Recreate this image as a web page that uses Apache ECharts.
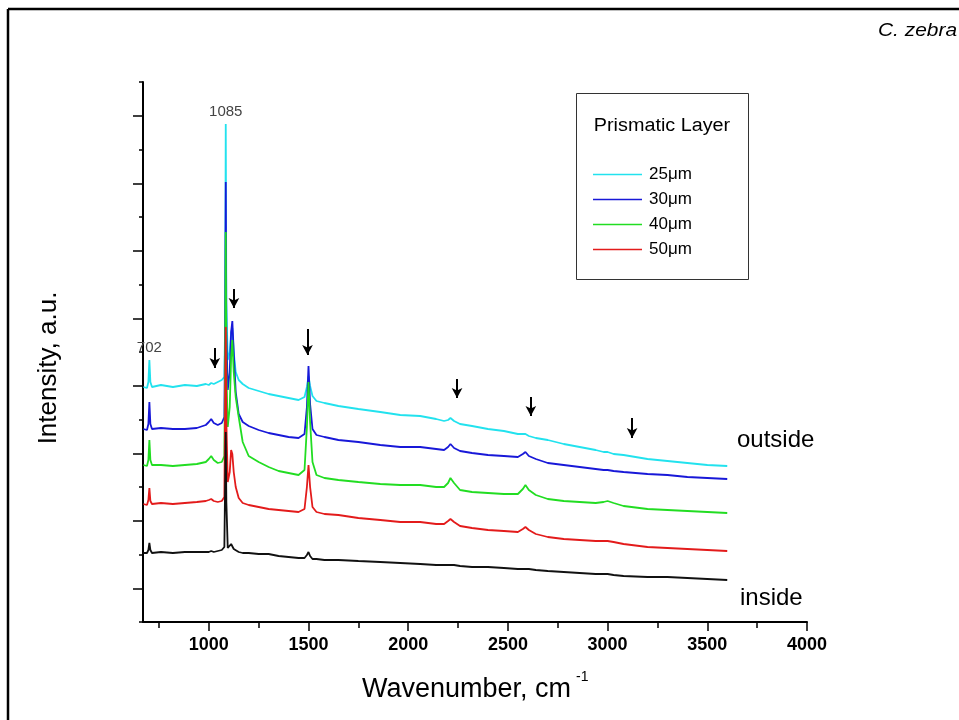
<!DOCTYPE html>
<html>
<head>
<meta charset="utf-8">
<title>C. zebra - Prismatic Layer</title>
<script src="https://cdn.jsdelivr.net/npm/echarts@6/dist/echarts.min.js"></script>
<style>
  html, body { margin: 0; padding: 0; background: #fff; }
  #chart { width: 959px; height: 720px; }
</style>
</head>
<body>
<div id="chart"></div>
<script>
// wavenumber grid (cm-1), shared by all spectra
const wavenumbers = [
  672, 690, 697, 702, 707, 715,
  760, 820, 880, 940, 985, 1000, 1012, 1025, 1045, 1065,
  1078, 1082, 1085, 1088, 1095, 1105, 1112, 1118, 1125, 1135,
  1150, 1170, 1200, 1250, 1300, 1350, 1400, 1450, 1480, 1492,
  1500, 1508, 1520, 1540, 1580, 1650, 1750, 1860, 1960, 2060,
  2140, 2180, 2200, 2212, 2230, 2260, 2320, 2400, 2480, 2550,
  2575, 2588, 2605, 2640, 2700, 2780, 2860, 2940, 2980, 3000,
  3030, 3080, 3200, 3300, 3400, 3500, 3600
];

// intensities (a.u., already offset as stacked in the figure)
const cyan25 = [
  235, 234, 240, 262, 240, 235,
  237, 235, 237, 236, 238, 237, 239, 238, 240, 242,
  245, 300, 498, 320, 262, 270, 290, 294, 270, 250,
  242, 238, 234, 231, 228, 226, 224, 222, 225, 235,
  246, 236, 226, 221, 219, 216, 213, 210, 207, 206,
  203, 201, 202, 204, 201, 198, 196, 193, 191, 188,
  188, 188, 186, 184, 182, 178, 175, 172, 170, 170,
  168, 167, 163, 161, 159, 157, 156
];
const blue30 = [
  193, 192, 198, 220, 198, 193,
  194, 193, 193, 194, 197, 200, 203, 199, 197, 199,
  205, 300, 440, 290, 232, 250, 290, 301, 270, 230,
  208, 200, 196, 192, 189, 187, 185, 184, 188, 215,
  256, 218, 193, 187, 185, 182, 180, 177, 175, 175,
  173, 172, 175, 178, 174, 171, 169, 167, 166, 165,
  168, 170, 166, 163, 159, 157, 155, 153, 152, 152,
  151, 150, 148, 147, 145, 144, 143
];
const green40 = [
  157, 156, 162, 182, 162, 157,
  157, 156, 157, 158, 160, 163, 166, 162, 159, 160,
  166, 260, 390, 250, 195, 215, 265, 282, 250, 225,
  205, 180, 166, 160, 155, 151, 149, 147, 152, 195,
  240, 200, 160, 147, 144, 142, 140, 138, 137, 137,
  135, 135, 139, 144, 139, 132, 130, 129, 128, 128,
  133, 137, 132, 127, 123, 121, 120, 119, 120, 121,
  119, 116, 113, 112, 111, 110, 109
];
const red50 = [
  118, 117, 122, 134, 121, 118,
  119, 118, 119, 120, 121, 122, 123, 121, 120, 121,
  125, 220, 295, 200, 140, 150, 172, 168, 150, 135,
  124, 119, 117, 115, 113, 112, 111, 110, 113, 135,
  157, 135, 115, 110, 108, 107, 104, 102, 100, 100,
  98, 98, 101, 103, 100, 96, 94, 92, 91, 90,
  93, 95, 92, 88, 85, 83, 82, 81, 81, 81,
  80, 78, 75, 74, 73, 72, 71
];
const blackInside = [
  69, 69, 72, 79, 72, 69,
  70, 69, 70, 70, 70, 70, 71, 70, 71, 72,
  75, 140, 190, 120, 74, 75, 78, 76, 73, 71,
  70, 69, 69, 68, 68, 66, 65, 64, 64, 67,
  70, 66, 63, 63, 62, 62, 61, 60, 59, 58,
  57, 57, 57, 57, 57, 56, 55, 55, 54, 53,
  53, 53, 53, 52, 51, 50, 49, 48, 48, 48,
  47, 46, 45, 45, 44, 43, 42
];

const legendNames = ['25μm', '30μm', '40μm', '50μm'];

// x axis ticks
const xMajorTicks = [1000, 1500, 2000, 2500, 3000, 3500, 4000];
const xMinorTicks = [750, 1250, 1750, 2250, 2750, 3250, 3750];

// peak labels
const peakText = ['702', '1085'];
const peakX = [702, 1085];
const peakY = [262, 498];

// arrows marking the weak bands
const arrowX = [1030, 1126, 1495, 2245, 2615, 3123];
const arrowTop = [274, 333, 293, 243, 225, 204];
const arrowEnd = [254, 314, 267, 224, 206, 184];

const FONT = 'Arial, "Liberation Sans", sans-serif';
const chart = echarts.init(document.getElementById('chart'));

const pairs = ys => wavenumbers.map((x, i) => [x, ys[i]]);

const spectrum = (name, ys, color) => ({
  name: name,
  type: 'line',
  xAxisIndex: 0,
  yAxisIndex: 0,
  data: pairs(ys),
  symbol: 'none',
  showSymbol: false,
  silent: true,
  lineStyle: { color: color, width: 1.8 },
  itemStyle: { color: color }
});

const s25 = spectrum(legendNames[0], cyan25, '#22e2ee');
s25.markPoint = {
  symbol: 'circle',
  symbolSize: 1,
  itemStyle: { color: 'rgba(0,0,0,0)' },
  label: { show: true, position: 'top', distance: 4, formatter: '{b}', color: '#444', fontSize: 15, fontFamily: FONT },
  data: peakText.map((t, i) => ({ name: t, coord: [peakX[i], peakY[i]] }))
};

const sInside = spectrum('inside', blackInside, '#111111');
sInside.markLine = {
  silent: true,
  symbol: ['none', 'arrow'],
  symbolSize: [8, 10],
  label: { show: false },
  lineStyle: { color: '#000', width: 2, type: 'solid' },
  data: arrowX.map((x, i) => [{ coord: [x, arrowTop[i]] }, { coord: [x, arrowEnd[i]] }])
};

const tickStyle = { color: '#000', width: 1.5 };

chart.setOption({
  animation: false,
  backgroundColor: '#fff',
  grid: [
    { left: 143, top: 82, width: 664, height: 540, outerBoundsMode: 'none' },
    { left: 143, top: 115.75, width: 664, height: 472.5, outerBoundsMode: 'none' }
  ],
  xAxis: [
    {
      type: 'value', gridIndex: 0, min: 670, max: 4000, position: 'bottom',
      axisLine: { show: true, onZero: false, lineStyle: { color: '#000', width: 2 } },
      axisTick: { show: true, length: 9, lineStyle: tickStyle, customValues: xMajorTicks },
      axisLabel: {
        show: true, customValues: xMajorTicks, formatter: v => String(v), margin: 14,
        color: '#000', fontSize: 18, fontWeight: 'bold', fontFamily: FONT
      },
      splitLine: { show: false }
    },
    {
      type: 'value', gridIndex: 0, min: 670, max: 4000, position: 'bottom',
      axisLine: { show: false, onZero: false },
      axisTick: { show: true, length: 6, lineStyle: tickStyle, customValues: xMinorTicks },
      axisLabel: { show: false },
      splitLine: { show: false }
    },
    { type: 'value', gridIndex: 1, min: 670, max: 4000, show: false }
  ],
  yAxis: [
    {
      type: 'value', gridIndex: 0, min: 0, max: 540, interval: 33.75,
      axisLine: { show: true, onZero: false, lineStyle: { color: '#000', width: 2 } },
      axisTick: { show: true, length: 4, lineStyle: tickStyle },
      axisLabel: { show: false },
      splitLine: { show: false }
    },
    {
      // longer ticks sit between the short ones
      type: 'value', gridIndex: 1, min: 0, max: 472.5, interval: 67.5,
      axisLine: { show: false, onZero: false },
      axisTick: { show: true, length: 10, lineStyle: tickStyle },
      axisLabel: { show: false },
      splitLine: { show: false }
    }
  ],
  legend: {
    data: legendNames,
    orient: 'vertical',
    left: 593,
    top: 166,
    padding: 0,
    icon: 'rect',
    itemWidth: 49,
    itemHeight: 1.5,
    itemGap: 8,
    selectedMode: false,
    textStyle: { fontSize: 17, lineHeight: 16, color: '#000', fontFamily: FONT, padding: [0, 0, 0, 2] }
  },
  series: [
    s25,
    spectrum(legendNames[1], blue30, '#1818d8'),
    spectrum(legendNames[2], green40, '#22dd22'),
    spectrum(legendNames[3], red50, '#e31b1b'),
    sInside
  ],
  graphic: [
    { type: 'line', shape: { x1: 8, y1: 9, x2: 959, y2: 9 }, style: { stroke: '#000', lineWidth: 2.5 } },
    { type: 'line', shape: { x1: 8, y1: 9, x2: 8, y2: 720 }, style: { stroke: '#000', lineWidth: 2.5 } },
    { type: 'text', x: 957, y: 31, scaleX: 1.1,
      style: { text: 'C. zebra', align: 'right', verticalAlign: 'middle', fontSize: 19, fontStyle: 'italic', fontFamily: FONT, fill: '#000' } },
    { type: 'rect', shape: { x: 576.5, y: 93.5, width: 172, height: 186 }, style: { fill: 'none', stroke: '#333', lineWidth: 1 }, z: 0 },
    { type: 'text', x: 662, y: 126, scaleX: 1.1,
      style: { text: 'Prismatic Layer', align: 'center', verticalAlign: 'middle', fontSize: 18, fontFamily: FONT, fill: '#000' } },
    { type: 'text', x: 737, y: 440,
      style: { text: 'outside', align: 'left', verticalAlign: 'middle', fontSize: 24, fontFamily: FONT, fill: '#000' } },
    { type: 'text', x: 740, y: 598,
      style: { text: 'inside', align: 'left', verticalAlign: 'middle', fontSize: 24, fontFamily: FONT, fill: '#000' } },
    { type: 'text', x: 49, y: 368, rotation: Math.PI / 2,
      style: { text: 'Intensity, a.u.', align: 'center', verticalAlign: 'middle', fontSize: 26, fontFamily: FONT, fill: '#000' } },
    { type: 'text', x: 362, y: 690,
      style: { text: 'Wavenumber, cm', align: 'left', verticalAlign: 'middle', fontSize: 27, fontFamily: FONT, fill: '#000' } },
    { type: 'text', x: 576, y: 677,
      style: { text: '-1', align: 'left', verticalAlign: 'middle', fontSize: 14, fontFamily: FONT, fill: '#000' } }
  ]
});
</script>
</body>
</html>
